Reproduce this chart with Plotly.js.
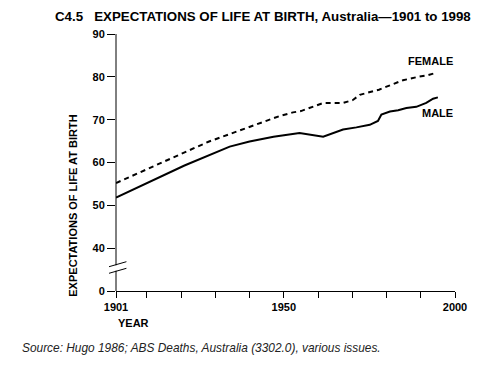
<!DOCTYPE html>
<html>
<head>
<meta charset="utf-8">
<script src="https://cdn.plot.ly/plotly-3.0.1.min.js"></script>
<style>html,body{margin:0;padding:0;background:#fff;}#chart{width:490px;height:367px;}</style>
</head>
<body>
<div id="chart"></div>
<script>
// Data
const maleYears   = [1901, 1911, 1921, 1934.2, 1940, 1947, 1954.6, 1961.5, 1964.4, 1967.3, 1971.2, 1975.1, 1977.5, 1978.5, 1981.0, 1983.4, 1985.8, 1988.7, 1991.6, 1993.6, 1995.0];
const maleValues  = [51.8, 55.6, 59.3, 63.7, 64.9, 66.0, 66.9, 66.0, 66.8, 67.7, 68.2, 68.8, 69.7, 71.2, 71.9, 72.2, 72.7, 73.0, 73.9, 74.9, 75.2];
const femaleYears  = [1901, 1928, 1948.8, 1952.7, 1955.0, 1961.5, 1967.3, 1970.2, 1972.2, 1975.1, 1977.8, 1980.0, 1984.8, 1989.2, 1991.6, 1994.3];
const femaleValues = [55.2, 64.85, 70.85, 71.7, 72.0, 73.9, 73.9, 74.6, 75.8, 76.4, 77.0, 77.7, 79.2, 80.0, 80.3, 80.9];

// Axis ticks (value 30 stands for the broken-axis "0")
const xTickVals = [1901, 1910, 1920, 1930, 1940, 1950, 1960, 1970, 1980, 1990, 2000];
const xTickText = ['1901', '', '', '', '', '1950', '', '', '', '', '2000'];
const yTickVals = [30, 40, 50, 60, 70, 80, 90];
const yTickText = ['0', '40', '50', '60', '70', '80', '90'];

const traces = [
  {x: maleYears, y: maleValues, type: 'scatter', mode: 'lines', name: 'MALE',
   line: {color: '#000', width: 2}},
  {x: femaleYears, y: femaleValues, type: 'scatter', mode: 'lines', name: 'FEMALE',
   line: {color: '#000', width: 2, dash: '5px,4px'}}
];

const bold = {family: 'Liberation Sans, Arial, sans-serif', size: 11, color: '#000', weight: 'bold'};

const layout = {
  width: 490, height: 367,
  margin: {l: 116.3, r: 34.7, t: 34, b: 76, pad: 0},
  paper_bgcolor: '#fff', plot_bgcolor: '#fff',
  showlegend: false,
  title: {
    text: '<b>C4.5&nbsp;&nbsp;&nbsp;EXPECTATIONS OF LIFE AT BIRTH, Australia—1901 to 1998</b>',
    font: {family: 'Liberation Sans, Arial, sans-serif', size: 13.3, color: '#000'},
    x: 55/490, xanchor: 'left', xref: 'container',
    y: 1 - 16/367, yanchor: 'middle', yref: 'container'
  },
  xaxis: {
    range: [1901, 2000], tickmode: 'array', tickvals: xTickVals, ticktext: xTickText,
    showgrid: false, zeroline: false, showline: true, linecolor: '#000', linewidth: 1,
    ticks: 'outside', ticklen: 6, tickwidth: 1, tickcolor: '#000',
    tickfont: bold, fixedrange: true
  },
  yaxis: {
    range: [30, 90], tickmode: 'array', tickvals: yTickVals, ticktext: yTickText,
    showgrid: false, zeroline: false, showline: false,
    ticks: 'outside', ticklen: 8, tickwidth: 1, tickcolor: '#000',
    tickfont: bold, fixedrange: true
  },
  shapes: [
    // y axis line, broken between 0 and 40
    {type: 'line', xref: 'paper', yref: 'paper', x0: 0, x1: 0, y0: 0, y1: 0.079, line: {color: '#000', width: 1}},
    {type: 'line', xref: 'paper', yref: 'paper', x0: 0, x1: 0, y0: 0.100, y1: 1, line: {color: '#000', width: 1}},
    // break marks
    {type: 'line', xref: 'paper', yref: 'paper', x0: -0.0206, x1: 0.0307, y0: 0.0946, y1: 0.114, line: {color: '#000', width: 1}},
    {type: 'line', xref: 'paper', yref: 'paper', x0: -0.0206, x1: 0.0307, y0: 0.0689, y1: 0.0883, line: {color: '#000', width: 1}}
  ],
  annotations: [
    {text: '<b>FEMALE</b>', x: 2000, y: 83.7, xref: 'x', yref: 'y', xanchor: 'right', yanchor: 'middle', showarrow: false, font: bold},
    {text: '<b>MALE</b>', x: 2000, y: 71.5, xref: 'x', yref: 'y', xanchor: 'right', yanchor: 'middle', showarrow: false, font: bold},
    {text: '<b>YEAR</b>', x: 0, y: -0.1245, xref: 'paper', yref: 'paper', xanchor: 'left', yanchor: 'middle', showarrow: false, font: bold},
    {text: '<b>EXPECTATIONS OF LIFE AT BIRTH</b>', x: -0.1277, y: 0.3307, xref: 'paper', yref: 'paper', xanchor: 'center', yanchor: 'middle', textangle: -90, showarrow: false, font: bold},
    {text: '<i>Source: Hugo 1986; ABS Deaths, Australia (3302.0), various issues.</i>', x: -0.284, y: -0.2218, xref: 'paper', yref: 'paper', xanchor: 'left', yanchor: 'middle', showarrow: false,
     font: {family: 'Liberation Sans, Arial, sans-serif', size: 11.9, color: '#222'}}
  ]
};

Plotly.newPlot('chart', traces, layout, {displayModeBar: false, staticPlot: true});
</script>
</body>
</html>
